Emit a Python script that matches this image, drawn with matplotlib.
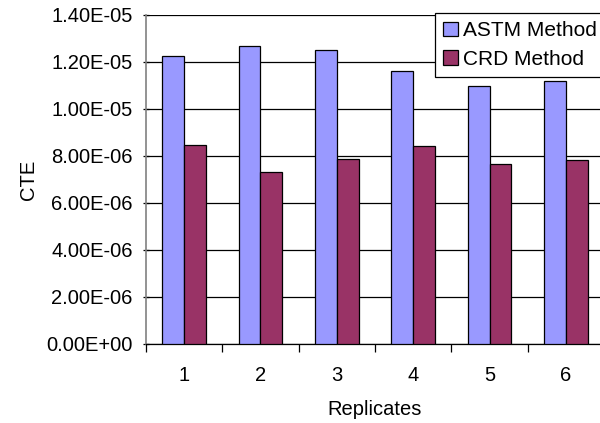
import matplotlib
matplotlib.use("Agg")
import matplotlib.pyplot as plt
import numpy as np
from matplotlib.ticker import FixedLocator, FuncFormatter

plt.rcParams['font.family'] = ['Liberation Sans', 'DejaVu Sans']

# data
replicates = [1, 2, 3, 4, 5, 6]
astm = [1.226e-05, 1.267e-05, 1.252e-05, 1.163e-05, 1.098e-05, 1.118e-05]
crd = [8.47e-06, 7.30e-06, 7.86e-06, 8.43e-06, 7.65e-06, 7.83e-06]
yticks = [0, 2e-06, 4e-06, 6e-06, 8e-06, 1e-05, 1.2e-05, 1.4e-05]

fig = plt.figure(figsize=(6.0, 4.23), dpi=100)
ax = fig.add_axes([0.2430, 0.1868, 0.764, 0.7778])

x = np.array(replicates)
w = 1 / 3.5
ax.bar(x - w / 2, astm, w, color='#9999FF', edgecolor='black', linewidth=0.9,
       label='ASTM Method', zorder=3)
ax.bar(x + w / 2, crd, w, color='#993366', edgecolor='black', linewidth=0.9,
       label='CRD Method', zorder=3)

ax.set_xlim(0.5, 6.5)
ax.set_ylim(0, 1.4e-05)
ax.set_yticks(yticks)
ax.yaxis.set_major_formatter(FuncFormatter(lambda v, p: f"{v:.2E}"))
ax.yaxis.grid(True, color='black', linewidth=0.9, zorder=0)

ax.set_xticks(replicates)
ax.xaxis.set_minor_locator(FixedLocator(np.arange(0.5, 7.0, 1.0)))
ax.tick_params(axis='x', which='major', length=0, pad=16, labelsize=14.5)
ax.tick_params(axis='x', which='minor', length=6, width=0.9, direction='out', color='black')
ax.tick_params(axis='y', length=5, width=0.9, direction='inout', color='black', pad=7, labelsize=14.5)

for s in ['top', 'right']:
    ax.spines[s].set_visible(False)
ax.spines['left'].set_color('#808080')
ax.spines['left'].set_linewidth(1.2)
ax.spines['bottom'].set_color('black')
ax.spines['bottom'].set_linewidth(0.9)

ax.set_xlabel('Replicates', fontsize=14.5, labelpad=11)
ax.set_ylabel('CTE', fontsize=14.5, labelpad=6)

leg = ax.legend(loc='upper left', bbox_to_anchor=(435 / 600, 1 - 13 / 423),
                bbox_transform=fig.transFigure, fontsize=15, frameon=True,
                fancybox=False, framealpha=1, edgecolor='black',
                handlelength=0.7, handleheight=0.7, handletextpad=0.25,
                labelspacing=0.45, borderpad=0.4, borderaxespad=0)
leg.get_frame().set_linewidth(0.9)

fig.savefig('out.png', dpi=100)
